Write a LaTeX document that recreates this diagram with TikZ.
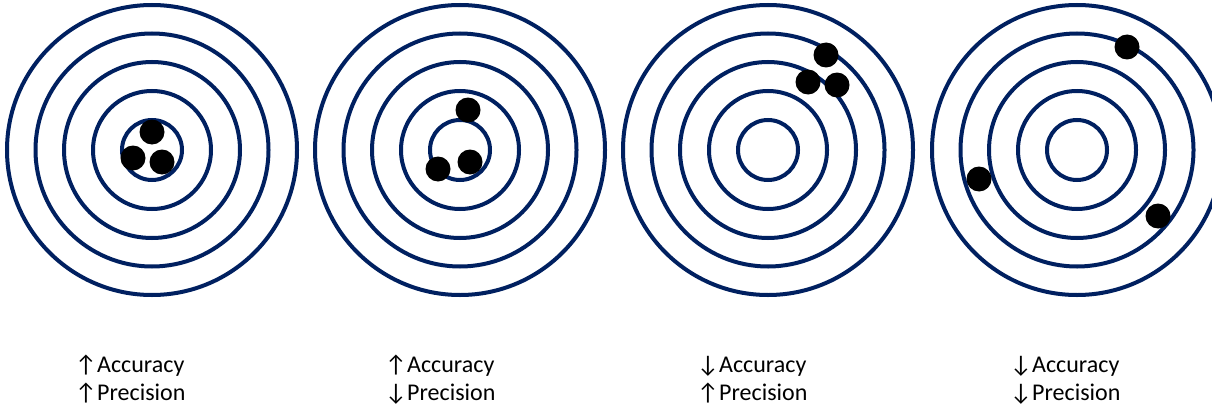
\documentclass[tikz,border=0pt]{standalone}
\usepackage{fontspec}
\setmainfont{Carlito}
\definecolor{ringblue}{HTML}{002060}
\tikzset{
  ring/.style={draw=ringblue, line width=4pt},
  shot/.style={fill=black, draw=none},
  lbl/.style={anchor=base west, inner sep=0pt, font=\fontsize{24}{28}\selectfont}
}
\newcommand{\arw}[1]{\makebox[22pt][l]{#1}}
\begin{document}
\begin{tikzpicture}[x=1pt,y=-1pt]
\useasboundingbox (0,0) rectangle (1212,404);
% targets
\foreach \cx [count=\i] in {152,460,768,1077}{
  \coordinate (t\i) at (\cx,150);
  \foreach \r in {145,116.5,88,59,30}{
    \draw[ring] (t\i) circle[radius=\r];
  }
}
% shots
\foreach \p/\q in {152/132,133/158,162/162,
                   468/110,438/169,470/162,
                   826/55,808/82,837/85,
                   1127/47,979/179,1158/216}{
  \fill[shot] (\p,\q) circle[radius=12.5];
}
% labels
\node[lbl] (a1) at (75,372) {\arw{↑}Accuracy};
\node[lbl] (p1) at (75,400) {\arw{↑}Precision};
\node[lbl] (a2) at (385,372) {\arw{↑}Accuracy};
\node[lbl] (p2) at (385,400) {\arw{↓}Precision};
\node[lbl] (a3) at (697,372) {\arw{↓}Accuracy};
\node[lbl] (p3) at (697,400) {\arw{↑}Precision};
\node[lbl] (a4) at (1010,372) {\arw{↓}Accuracy};
\node[lbl] (p4) at (1010,400) {\arw{↓}Precision};
\end{tikzpicture}
\end{document}
